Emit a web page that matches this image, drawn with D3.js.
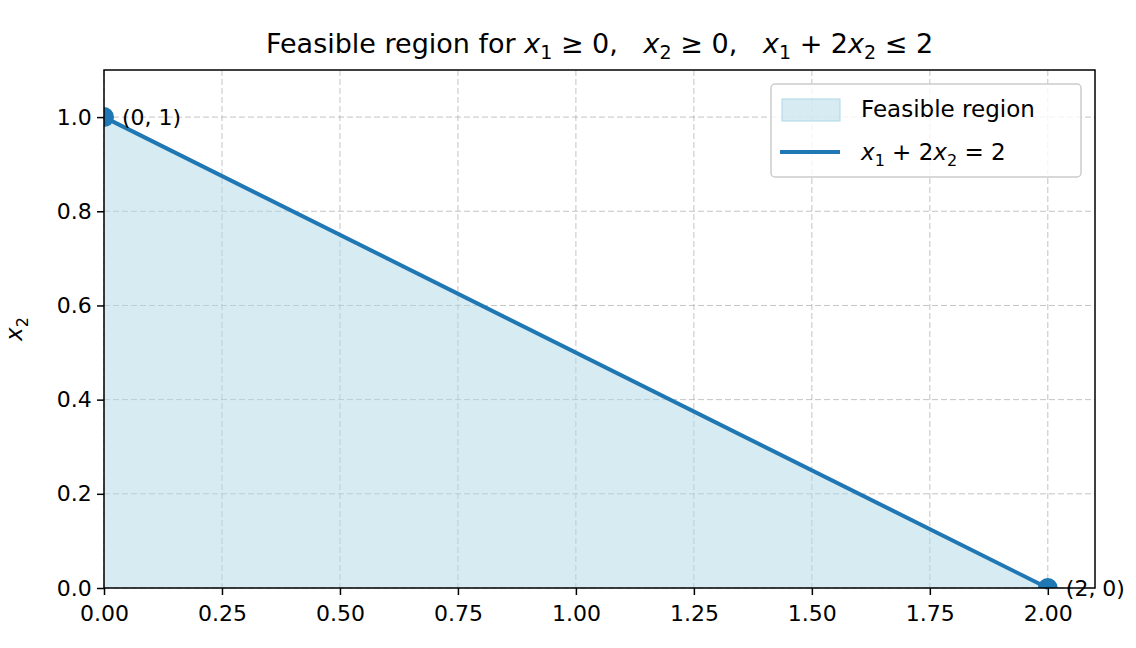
<!DOCTYPE html>
<html><head><meta charset="utf-8">
<script src="https://cdn.jsdelivr.net/npm/d3@7"></script>
<style>body{margin:0;background:#fff}text{font-family:"DejaVu Sans",sans-serif}</style>
</head><body><svg id="c" width="1136" height="648"></svg>
<script>
const xTicks = [0, 0.25, 0.5, 0.75, 1, 1.25, 1.5, 1.75, 2]
const yTicks = [0, 0.2, 0.4, 0.6, 0.8, 1.0]
const regionX = [0, 2, 0]
const regionY = [0, 0, 1]
const lineX = [0, 2]
const lineY = [1, 0]
const vertices = [[0, 1, "(0, 1)"], [2, 0, "(2, 0)"]]

const svg = d3.select("#c")
const m = {l: 104, r: 1095, t: 70, b: 588}
const x = d3.scaleLinear().domain([0, 2.1]).range([m.l, m.r])
const y = d3.scaleLinear().domain([0, 1.1]).range([m.b, m.t])
const blue = "#1f77b4"

// grid
const g = svg.append("g").attr("stroke", "#b0b0b0").attr("stroke-opacity", 0.75).attr("stroke-dasharray", "6,3")
xTicks.forEach(t => g.append("line").attr("x1", x(t)).attr("x2", x(t)).attr("y1", m.t).attr("y2", m.b))
yTicks.forEach(t => g.append("line").attr("y1", y(t)).attr("y2", y(t)).attr("x1", m.l).attr("x2", m.r))

svg.append("path")
  .attr("d", d3.line().x(d => x(d[0])).y(d => y(d[1]))(regionX.map((v, i) => [v, regionY[i]])) + "Z")
  .attr("fill", "lightblue").attr("fill-opacity", 0.5)

svg.append("path")
  .attr("d", d3.line().x(d => x(d[0])).y(d => y(d[1]))(lineX.map((v, i) => [v, lineY[i]])))
  .attr("stroke", blue).attr("stroke-width", 4).attr("fill", "none")

const clip = svg.append("clipPath").attr("id", "cl").append("rect")
  .attr("x", m.l).attr("y", m.t).attr("width", m.r - m.l).attr("height", m.b - m.t)
svg.append("g").attr("clip-path", "url(#cl)").selectAll("circle").data(vertices).join("circle")
  .attr("cx", d => x(d[0])).attr("cy", d => y(d[1])).attr("r", 10).attr("fill", blue)
svg.selectAll(".vl").data(vertices).join("text")
  .attr("x", d => x(d[0]) + 18).attr("y", d => y(d[1]) + 8)
  .attr("font-size", 22).text(d => d[2])

// axes
const ax = svg.append("g").attr("transform", `translate(0,${m.b})`)
  .call(d3.axisBottom(x).tickValues(xTicks).tickFormat(d3.format(".2f")).tickSizeOuter(0).tickSize(7))
const ay = svg.append("g").attr("transform", `translate(${m.l},0)`)
  .call(d3.axisLeft(y).tickValues(yTicks).tickFormat(d3.format(".1f")).tickSizeOuter(0).tickSize(7))
;[ax, ay].forEach(a => { a.selectAll("text").attr("font-size", 22).attr("fill", "#000").style("font-family", "DejaVu Sans"); a.selectAll(".tick line").attr("stroke", "#000").attr("stroke-width", 1.5); a.select(".domain").remove() })
ax.selectAll("text").attr("dy", "1.05em")
ay.selectAll("text").attr("dx", "-0.1em")
svg.append("rect").attr("x", m.l).attr("y", m.t).attr("width", m.r - m.l).attr("height", m.b - m.t)
  .attr("fill", "none").attr("stroke", "#000").attr("stroke-width", 1.5)

// labels
svg.append("text").attr("transform", `translate(22,${(m.t + m.b) / 2}) rotate(-90)`).attr("text-anchor", "middle")
  .attr("font-size", 23).html('<tspan font-style="italic">x</tspan><tspan font-size="16" dy="6">2</tspan>')
svg.append("text").attr("x", (m.l + m.r) / 2).attr("y", 53).attr("text-anchor", "middle").attr("font-size", 27)
  .attr("xml:space", "preserve").style("white-space", "pre")
  .html('Feasible region for <tspan font-style="italic">x</tspan><tspan font-size="19" dy="6">1</tspan><tspan dy="-6"> ≥ 0,   </tspan><tspan font-style="italic">x</tspan><tspan font-size="19" dy="6">2</tspan><tspan dy="-6"> ≥ 0,   </tspan><tspan font-style="italic">x</tspan><tspan font-size="19" dy="6">1</tspan><tspan dy="-6"> + 2</tspan><tspan font-style="italic">x</tspan><tspan font-size="19" dy="6">2</tspan><tspan dy="-6"> ≤ 2</tspan>')

// legend
const lg = svg.append("g").attr("transform", "translate(771,84)")
lg.append("rect").attr("width", 310).attr("height", 93).attr("rx", 4).attr("fill", "#fff").attr("fill-opacity", 0.8).attr("stroke", "#ccc").attr("stroke-width", 1.5)
lg.append("rect").attr("x", 11).attr("y", 15).attr("width", 58).attr("height", 22).attr("fill", "lightblue").attr("fill-opacity", 0.5).attr("stroke", "lightblue")
lg.append("text").attr("x", 90).attr("y", 33).attr("font-size", 23).text("Feasible region")
lg.append("line").attr("x1", 9).attr("x2", 69).attr("y1", 68).attr("y2", 68).attr("stroke", blue).attr("stroke-width", 4)
lg.append("text").attr("x", 90).attr("y", 76).attr("font-size", 23)
  .html('<tspan font-style="italic">x</tspan><tspan font-size="16" dy="6">1</tspan><tspan dy="-6"> + 2</tspan><tspan font-style="italic">x</tspan><tspan font-size="16" dy="6">2</tspan><tspan dy="-6"> = 2</tspan>')
</script></body></html>
